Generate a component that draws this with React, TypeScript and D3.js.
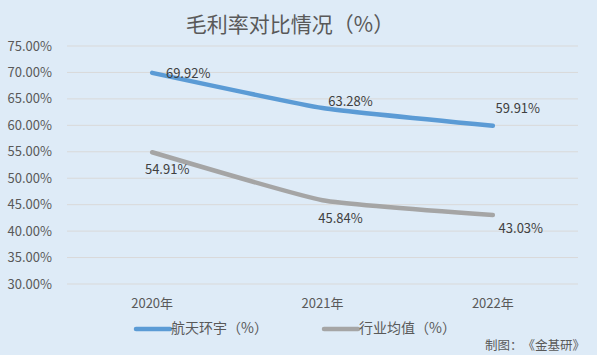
import React from "react";
import * as d3 from "d3";

const categories = ["2020年", "2021年", "2022年"];
const seriesNames = ["航天环宇（%）", "行业均值（%）"];
const companyValues = [69.92, 63.28, 59.91];
const industryValues = [54.91, 45.84, 43.03];
const yTicks = [30, 35, 40, 45, 50, 55, 60, 65, 70, 75];
const title = "毛利率对比情况（%）";
const source = "制图：《金基研》";

const W = 597;
const H = 355;
const FONT = "'Noto Sans CJK SC', 'Noto Sans', sans-serif";
const COLORS = ["#5B9BD5", "#A5A5A5"];

// label offsets relative to each point (dx, dy of text center)
const labelOffsets = [
  [[36, 1], [28, -7], [25, -17]],
  [[15, 17], [18, 18], [28, 13]],
];

export default function App() {
  const margin = { left: 67, right: 19, top: 46, bottom: 71 };
  const x = d3
    .scaleBand<string>()
    .domain(categories)
    .range([margin.left, W - margin.right]);
  const y = d3
    .scaleLinear()
    .domain([30, 75])
    .range([H - margin.bottom, margin.top]);
  const cx = (c: string) => (x(c) as number) + x.bandwidth() / 2;
  const line = d3
    .line<number>()
    .x((_, i) => cx(categories[i]))
    .y((d) => y(d))
    .curve(d3.curveCardinal.tension(0.6));
  const series = [companyValues, industryValues];

  return (
    <svg
      width={W}
      height={H}
      style={
        {
          position: "absolute",
          left: 0,
          top: 0,
          fontFamily: FONT,
          fontKerning: "none",
          textSpacingTrim: "space-all",
        } as any
      }
    >
      <rect x={0} y={0} width={W} height={H} fill="#DEEBF7" />
      <text
        x={290}
        y={32}
        textAnchor="middle"
        fontSize={21}
        fill="#595959"
      >
        {title}
      </text>
      {yTicks.map((t) => (
        <g key={t}>
          <line
            x1={margin.left}
            x2={W - margin.right}
            y1={y(t)}
            y2={y(t)}
            stroke="#D9D9D9"
            strokeWidth={1}
          />
          <text
            x={52}
            y={y(t)}
            dy="0.35em"
            textAnchor="end"
            fontSize={13}
            fill="#595959"
          >
            {t.toFixed(2)}%
          </text>
        </g>
      ))}
      {categories.map((c) => (
        <text
          key={c}
          x={cx(c)}
          y={303}
          dy="0.35em"
          textAnchor="middle"
          fontSize={13}
          fill="#595959"
        >
          {c}
        </text>
      ))}
      {series.map((vals, si) => (
        <path
          key={si}
          d={line(vals) || ""}
          fill="none"
          stroke={COLORS[si]}
          strokeWidth={4.5}
          strokeLinecap="round"
          strokeLinejoin="round"
        />
      ))}
      {series.map((vals, si) =>
        vals.map((v, i) => (
          <text
            key={`${si}-${i}`}
            x={cx(categories[i]) + labelOffsets[si][i][0]}
            y={y(v) + labelOffsets[si][i][1]}
            dy="0.35em"
            textAnchor="middle"
            fontSize={13}
            fill="#404040"
          >
            {v.toFixed(2)}%
          </text>
        ))
      )}
      {seriesNames.map((n, si) => {
        const lx = si === 0 ? 136 : 324;
        return (
          <g key={n}>
            <line
              x1={lx}
              x2={lx + 34}
              y1={329}
              y2={329}
              stroke={COLORS[si]}
              strokeWidth={4.5}
              strokeLinecap="round"
            />
            <text
              x={lx + 35}
              y={328}
              dy="0.35em"
              fontSize={14}
              fill="#595959"
            >
              {n}
            </text>
          </g>
        );
      })}
      <text
        x={585}
        y={346}
        dy="0.35em"
        textAnchor="end"
        fontSize={12.5}
        fill="#595959"
      >
        {source}
      </text>
    </svg>
  );
}
